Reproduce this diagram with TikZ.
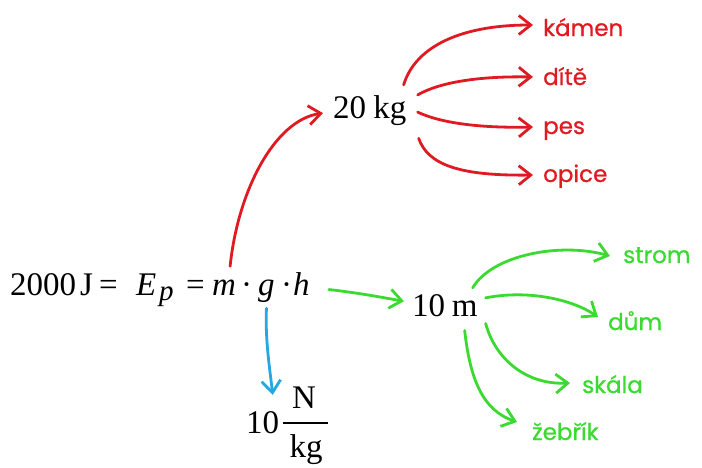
\documentclass[tikz,border=0pt]{standalone}
\usepackage{fontspec}
\setmainfont{Liberation Serif}
\newfontfamily\handfont{Poppins}[FakeBold=0.8]
\usetikzlibrary{arrows.meta}
\definecolor{cred}{RGB}{224,26,34}
\definecolor{cgreen}{RGB}{58,218,48}
\definecolor{cblue}{RGB}{36,168,226}
\tikzset{
  ar/.style={line width=2.8pt, line cap=round, line join=round,
    -{Straight Barb[length=12pt,width=19pt]}},
  mt/.style={font=\fontsize{33}{40}\selectfont, inner sep=0pt, anchor=base west},
  word/.style={font=\handfont\fontsize{23}{27}\selectfont, inner sep=0pt,
    anchor=base west, text height=14pt, text depth=0pt},
}
\begin{document}
\begin{tikzpicture}[x=1pt,y=-1pt]
\useasboundingbox (0,0) rectangle (702,467);
% equation
\node[mt] (n2000) at (10,295) {2000};
\node[mt] (nJ) at (80,295) {J};
\node[mt] (eqa) at (99,295) {=};
\node[mt] (nE) at (136,295) {\textit{E}};
\node[mt,font=\fontsize{29}{34}\selectfont] (np) at (159,300) {\textit{p}};
\node[mt] (eqb) at (186,295) {=};
\node[mt] (m) at (212,295) {\textit{m}};
\node[mt] (d1) at (241,295) {·};
\node[mt] (g) at (258,295) {\textit{g}};
\node[mt] (d2) at (281,295) {·};
\node[mt] (h) at (293,295) {\textit{h}};
% values
\node[mt] (kg20) at (333,118) {20\hspace{0.22em}kg};
\node[mt] (m10) at (412,316) {10\hspace{0.2em}m};
\node[mt] (ten) at (246,433) {10};
\node[mt,anchor=base] (fN) at (304,408) {N};
\node[mt,anchor=base] (fkg) at (306,457) {kg};
\draw[line width=1.3pt] (283,423) -- (328,423);
% words
\node[word,text=cred] (kamen) at (543,36) {kámen};
\node[word,text=cred] (dite) at (543,85) {dítě};
\node[word,text=cred] (pes) at (543,134) {pes};
\node[word,text=cred] (opice) at (543,182) {opice};
\node[word,text=cgreen] (strom) at (623,263) {strom};
\node[word,text=cgreen] (dum) at (608,330) {dům};
\node[word,text=cgreen] (skala) at (582,393) {skála};
\node[word,text=cgreen] (zebrik) at (532,440) {žebřík};
% red arrows
\draw[ar,cred] ([shift={(6pt,13pt)}]m.north) .. controls (238,190) and (275,120) .. ([shift={(-10pt,-3pt)}]kg20.west);
\draw[ar,cred] ([shift={(-3pt,10pt)}]kg20.north east) .. controls (414,50) and (455,25) .. ([shift={(-10pt,4pt)}]kamen.west);
\draw[ar,cred] ([shift={(11pt,0pt)}]kg20.north east) .. controls (440,82) and (480,76) .. ([shift={(-10pt,1pt)}]dite.west);
\draw[ar,cred] ([shift={(11pt,-2pt)}]kg20.east) .. controls (445,125) and (490,128) .. ([shift={(-10pt,0pt)}]pes.west);
\draw[ar,cred] ([shift={(12pt,-13pt)}]kg20.south east) .. controls (428,165) and (460,176) .. ([shift={(-10pt,0pt)}]opice.west);
% green arrows
\draw[ar,cgreen] ([shift={(19pt,-6pt)}]h.east) .. controls (360,293) and (385,298) .. ([shift={(-8pt,4pt)}]m10.west);
\draw[ar,cgreen] ([shift={(-5pt,6pt)}]m10.north east) .. controls (492,255) and (560,242) .. ([shift={(-13pt,0pt)}]strom.west);
\draw[ar,cgreen] ([shift={(8pt,-4pt)}]m10.north east) .. controls (525,290) and (570,298) .. ([shift={(-10pt,6pt)}]dum.west);
\draw[ar,cgreen] ([shift={(8pt,-7pt)}]m10.south east) .. controls (495,358) and (525,385) .. ([shift={(-12pt,3pt)}]skala.west);
\draw[ar,cgreen] ([shift={(-13pt,-14pt)}]m10.south east) .. controls (470,378) and (482,410) .. ([shift={(-15pt,11pt)}]zebrik.west);
% blue arrow
\draw[ar,cblue] ([shift={(0pt,-6pt)}]g.south) .. controls (265,340) and (270,370) .. ([shift={(10pt,16pt)}]ten.north);
\end{tikzpicture}
\end{document}
